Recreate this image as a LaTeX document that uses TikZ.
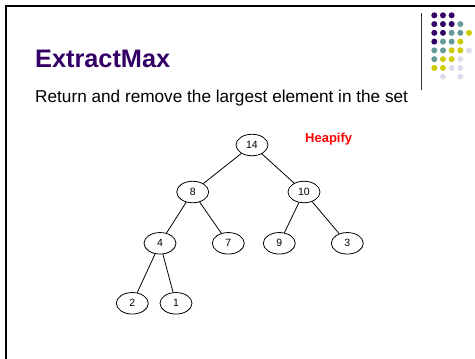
\documentclass[tikz,border=0pt]{standalone}
\usepackage{fontspec}
\setmainfont{Liberation Sans}
\usetikzlibrary{shapes.geometric}
\definecolor{titlepurple}{HTML}{330066}
\definecolor{dotpurple}{HTML}{330066}
\definecolor{dotteal}{HTML}{669999}
\definecolor{dotyellow}{HTML}{CCCC00}
\definecolor{dotlav}{HTML}{DDDDEE}
\begin{document}
\begin{tikzpicture}[x=1pt,y=-1pt,
  heapnode/.style={draw, ellipse, minimum width=32pt, minimum height=21.5pt, inner sep=0pt, font=\fontsize{10.5}{12}\selectfont, line width=0.8pt},
  treeedge/.style={line width=0.8pt},
  dotnode/.style={circle, fill=#1, inner sep=0pt, minimum size=6pt},
  frameline/.style={line width=2.2pt, black}]
\useasboundingbox (0,0) rectangle (475,359);
% frame
\coordinate (ftl) at (6,6);
\coordinate (ftr) at (475,6);
\coordinate (fbl) at (6,359);
\draw[frameline] (ftr) -- (ftl) -- (fbl);
% logo separator
\coordinate (sepT) at (421.5,13);
\coordinate (sepB) at (421.5,90);
\draw[line width=1pt, black!80] (sepT) -- (sepB);
% dots
\foreach \c/\r/\col in {
  0/0/dotpurple,1/0/dotpurple,2/0/dotpurple,
  0/1/dotpurple,1/1/dotpurple,2/1/dotpurple,3/1/dotteal,
  0/2/dotpurple,1/2/dotpurple,2/2/dotteal,3/2/dotteal,4/2/dotyellow,
  0/3/dotpurple,1/3/dotteal,2/3/dotteal,3/3/dotyellow,
  0/4/dotteal,1/4/dotteal,2/4/dotyellow,3/4/dotyellow,4/4/dotlav,
  0/5/dotteal,1/5/dotyellow,2/5/dotyellow,3/5/dotlav,
  0/6/dotyellow,1/6/dotyellow,2/6/dotlav,3/6/dotlav,
  1/7/dotlav,3/7/dotlav}
  \node[dotnode=\col] (d\c\r) at ({434.3+8.68*\c},{15.3+8.77*\r}) {};
% title and subtitle
\node[anchor=base west, inner sep=0pt, text=titlepurple, font=\bfseries\fontsize{25.3}{28}\selectfont] (title) at (35,67) {ExtractMax};
\node[anchor=base west, inner sep=0pt, font=\fontsize{17.2}{20}\selectfont] (subtitle) at (35,102.3) {Return and remove the largest element in the set};
\node[anchor=base west, inner sep=0pt, text=red, font=\bfseries\fontsize{13}{15}\selectfont] (heapify) at (305,142.7) {Heapify};
% tree
\node[heapnode] (n14) at (252,145) {14};
\node[heapnode] (n8) at (192.7,192) {8};
\node[heapnode] (n10) at (304,192) {10};
\node[heapnode] (n4) at (160,243.3) {4};
\node[heapnode] (n7) at (228.3,243.3) {7};
\node[heapnode] (n9) at (279.3,243.3) {9};
\node[heapnode] (n3) at (347.3,243.3) {3};
\node[heapnode] (n2) at (132.3,303.3) {2};
\node[heapnode] (n1) at (176,303.3) {1};
\draw[treeedge] (n14) -- (n8);
\draw[treeedge] (n14) -- (n10);
\draw[treeedge] (n8) -- (n4);
\draw[treeedge] (n8) -- (n7);
\draw[treeedge] (n10) -- (n9);
\draw[treeedge] (n10) -- (n3);
\draw[treeedge] (n4) -- (n2);
\draw[treeedge] (n4) -- (n1);
\end{tikzpicture}
\end{document}
